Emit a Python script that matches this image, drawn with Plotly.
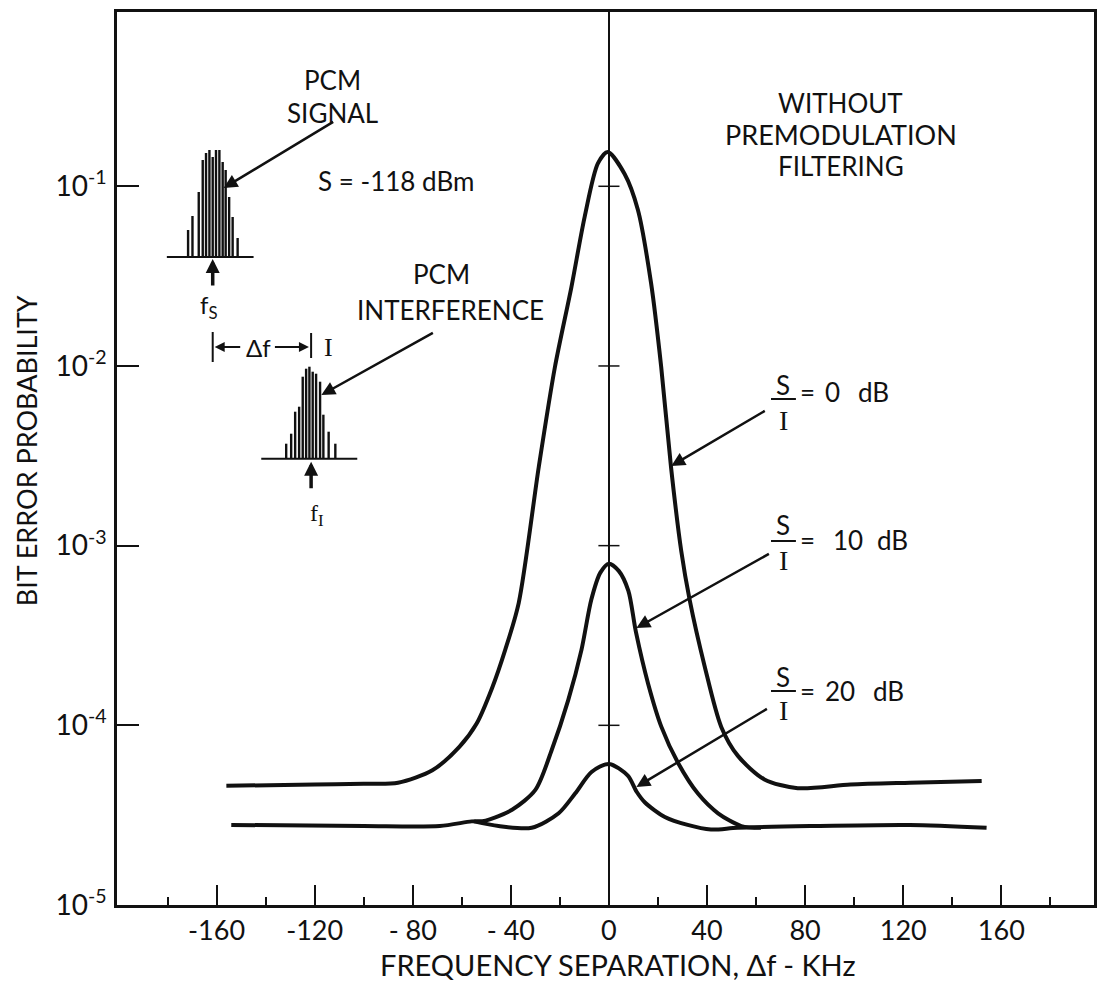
import plotly.graph_objects as go

# ---------------- data ----------------
freq_0db = [-156, -120, -100, -86, -72, -61, -54, -47.6, -42.3, -36.8, -28.6, -22, -15.3, -9.9, -4.5, -0.5,
            6.4, 11.8, 17.2, 21.3, 25.3, 29.5, 32.9, 39, 45.8, 52.6, 63.4, 77, 98.5, 122.8, 152]
ber_0db = [4.61e-5, 4.68e-5, 4.73e-5, 4.79e-5, 5.62e-5, 7.59e-5, 1.02e-4, 1.62e-4, 2.63e-4, 4.79e-4, 2.75e-3,
           9.9e-3, 2.75e-2, 6.76e-2, 0.134, 0.155, 0.117, 0.074, 0.0288, 0.0099, 0.00275, 9.3e-4, 5.0e-4,
           2.14e-4, 9.8e-5, 6.76e-5, 5.0e-5, 4.47e-5, 4.68e-5, 4.79e-5, 4.9e-5]

freq_10db = [-154, -100, -69, -56, -50.3, -39.5, -30, -23.4, -16.6, -11.2, -7.2, -3.5, 0, 4, 7.9, 11, 16,
             21.4, 28.2, 36.3, 44.5, 54, 62]
ber_10db = [2.79e-5, 2.75e-5, 2.75e-5, 2.92e-5, 2.95e-5, 3.39e-5, 4.37e-5, 7.24e-5, 1.38e-4, 2.63e-4, 5.0e-4,
            7.08e-4, 7.94e-4, 7.24e-4, 5.62e-4, 3.31e-4, 1.70e-4, 9.8e-5, 6.17e-5, 4.17e-5, 3.24e-5,
            2.75e-5, 2.69e-5]

freq_20db = [-55, -45, -31.5, -20.5, -13.8, -7.1, 0, 7.7, 11.3, 14.7, 22.8, 32.1, 41.6, 52.4, 82, 122.7, 154]
ber_20db = [2.92e-5, 2.75e-5, 2.69e-5, 3.24e-5, 4.17e-5, 5.5e-5, 6.1e-5, 5.25e-5, 4.27e-5, 3.72e-5, 3.09e-5,
            2.79e-5, 2.63e-5, 2.69e-5, 2.75e-5, 2.79e-5, 2.69e-5]

x_tick_vals = [-160, -120, -80, -40, 0, 40, 80, 120, 160]
x_tick_text = ["-160", "-120", "- 80", "- 40", "0", "40", "80", "120", "160"]
x_minor_vals = [-180, -140, -100, -60, -20, 20, 60, 100, 140, 180]
y_tick_vals = [1e-5, 1e-4, 1e-3, 1e-2, 1e-1]
y_tick_text = ["10<sup>-5</sup>", "10<sup>-4</sup>", "10<sup>-3</sup>", "10<sup>-2</sup>", "10<sup>-1</sup>"]
cross_decades = [-1, -2, -3, -4]

# inset spectrum glyphs (offset from centre px, line height px)
signal_lines = [(-24.7, 27), (-20.3, 41), (-14, 65), (-10, 97), (-6.7, 104), (-3.3, 107), (0, 100),
                (3.3, 107), (6.7, 107), (10, 95), (13, 87), (16.5, 60), (20, 40), (25, 19)]
interf_lines = [(-25, 15), (-20, 25), (-16, 47), (-12, 52), (-8.4, 82), (-5, 90), (-1.7, 92),
                (1.6, 87), (5, 85), (9, 77), (12.3, 44), (17.6, 27), (24.3, 15)]

# ---------------- layout geometry ----------------
W, H = 1100, 986
ML, MR, MT, MB = 117, 3, 12, 81
PW, PH = W - ML - MR, H - MT - MB
XR = [-200.6, 197.8]
YR = [-5, -0.03]
FONT = "Lato"
BLACK = "#111111"


def px(x):
    return (x - ML) / PW


def py(y):
    return (H - MB - y) / PH


fig = go.Figure()
for fx, fy in [(freq_0db, ber_0db), (freq_10db, ber_10db), (freq_20db, ber_20db)]:
    fig.add_trace(go.Scatter(x=fx, y=fy, mode="lines",
                             line=dict(color=BLACK, width=4, shape="spline", smoothing=0.8),
                             showlegend=False, hoverinfo="skip"))

shapes = []
annotations = []


def seg(x0, y0, x1, y1, w=2.5):
    shapes.append(dict(type="line", xref="paper", yref="paper", x0=px(x0), y0=py(y0), x1=px(x1), y1=py(y1),
                       line=dict(color=BLACK, width=w)))


def text(x, y, t, size=24, anchor="center", family=FONT):
    annotations.append(dict(xref="paper", yref="paper", x=px(x), y=py(y), text=t, showarrow=False,
                            xanchor=anchor, yanchor="middle", font=dict(family=family, size=size, color=BLACK)))


def arrow(hx, hy, tx, ty, w=2.5, size=1.1, head=2):
    annotations.append(dict(xref="paper", yref="paper", x=px(hx), y=py(hy), ax=tx - hx, ay=ty - hy,
                            text="", showarrow=True, arrowhead=head, arrowsize=size, arrowwidth=w,
                            arrowcolor=BLACK))


# crosses on the zero line at the decades
for d in cross_decades:
    shapes.append(dict(type="line", xref="x", yref="paper", x0=-4.3, x1=4.3,
                       y0=(d - YR[0]) / (YR[1] - YR[0]), y1=(d - YR[0]) / (YR[1] - YR[0]),
                       line=dict(color=BLACK, width=1.5)))

# signal spectrum glyph
cx, base = 213, 257
seg(167, base, 254, base, 2)
for dx, h in signal_lines:
    seg(cx + dx, base, cx + dx, base - h, 2.4)
arrow(cx, base + 2, cx, base + 30, w=3.5, size=0.8)
text(209, 306, "f<sub>S</sub>", 24)

# interference spectrum glyph
cx2, base2 = 311.7, 458.7
seg(261.7, base2, 358, base2, 2)
for dx, h in interf_lines:
    seg(cx2 + dx, base2, cx2 + dx, base2 - h, 2.4)
arrow(cx2, base2 + 3, cx2, base2 + 31, w=3.5, size=0.8)
text(318, 515, "f<sub>I</sub>", 24, family="Liberation Serif")

# delta f dimension
seg(213, 332, 213, 362, 2)
seg(311.7, 333, 311.7, 358, 2)
arrow(215, 347, 242, 347, w=2, size=1)
arrow(309.5, 347, 274, 347, w=2, size=1)
text(259, 347, "Δf", 24)
text(329, 347, "I", 26, family="Liberation Serif")

# labels
text(333, 80, "PCM", 26)
text(333, 113, "SIGNAL", 26)
arrow(224, 188, 335, 121)
text(397, 181, "S = -118 dBm", 26)
text(442, 274, "PCM", 26)
text(452, 310, "INTERFERENCE", 26)
arrow(322, 395, 435, 332)
text(843, 103, "WITHOUT", 26)
text(843, 135, "PREMODULATION", 27)
text(843, 166, "FILTERING", 26)

# S/I fractions
for (sy, bary, iy, eqy, num, numx, dbx, hx, hy, tx, ty) in [
        (385, 399, 420, 392, "0", 835, 858, 673, 466, 768, 410),
        (525, 541, 560, 540, "10", 850, 877, 638, 628, 772, 553),
        (677, 691, 710, 691, "20", 842, 873, 638, 787, 770, 708)]:
    text(785, sy, "S", 26)
    seg(773, bary, 798, bary, 2)
    text(786, iy, "I", 28, family="Liberation Serif")
    text(810, eqy, "=", 26)
    text(numx, eqy, num, 26)
    text(dbx, eqy, "dB", 26, anchor="left")
    arrow(hx, hy, tx, ty)

# axis titles
text(620, 964, "FREQUENCY SEPARATION, Δf - KHz", 29)
annotations.append(dict(xref="paper", yref="paper", x=px(26), y=py(451), text="BIT ERROR PROBABILITY",
                        showarrow=False, textangle=-90, xanchor="center", yanchor="middle",
                        font=dict(family=FONT, size=27, color=BLACK)))

fig.update_layout(
    width=W, height=H,
    margin=dict(l=ML, r=MR, t=MT, b=MB, pad=0),
    paper_bgcolor="white", plot_bgcolor="white",
    shapes=shapes, annotations=annotations,
    font=dict(family=FONT, size=26, color=BLACK),
    xaxis=dict(range=XR, showgrid=False, zeroline=True, zerolinecolor=BLACK, zerolinewidth=1.5,
               showline=True, linecolor=BLACK, linewidth=2.5, mirror=True,
               ticks="inside", ticklen=20, tickwidth=2, tickcolor=BLACK,
               tickmode="array", tickvals=x_tick_vals, ticktext=x_tick_text,
               tickfont=dict(family=FONT, size=27, color=BLACK), ticklabelstandoff=0,
               minor=dict(ticks="inside", ticklen=8, tickwidth=2, tickcolor=BLACK, tickvals=x_minor_vals)),
    yaxis=dict(type="log", range=YR, showgrid=False, zeroline=False,
               showline=True, linecolor=BLACK, linewidth=2.5, mirror=True,
               ticks="inside", ticklen=22, tickwidth=2, tickcolor=BLACK,
               tickmode="array", tickvals=y_tick_vals, ticktext=y_tick_text,
               tickfont=dict(family=FONT, size=28, color=BLACK), ticklabelstandoff=2),
)

fig.write_html("out.html")
